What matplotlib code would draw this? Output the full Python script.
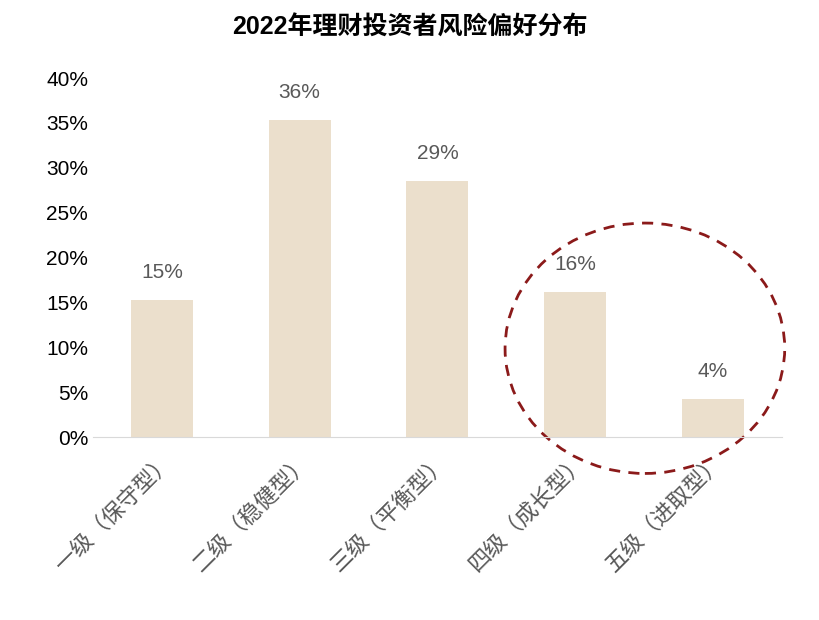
import matplotlib.pyplot as plt
from matplotlib.patches import Ellipse
from matplotlib.ticker import PercentFormatter

plt.rcParams["font.family"] = ["Liberation Sans", "Noto Sans CJK SC", "DejaVu Sans"]

categories = ["一级（保守型）", "二级（稳健型）", "三级（平衡型）", "四级（成长型）", "五级（进取型）"]
values = [15.3, 35.3, 28.5, 16.2, 4.2]
labels = ["15%", "36%", "29%", "16%", "4%"]

fig = plt.figure(figsize=(8.19, 6.2), dpi=100)
ax = fig.add_axes([0.1136, 0.295, 0.841, 0.579])

x = range(len(categories))
ax.bar(x, values, width=0.45, color="#EBDFCC")
for xi, v, lab in zip(x, values, labels):
    ax.text(xi, v + 2, lab, ha="center", va="bottom", fontsize=15, color="#595959")

ax.set_xlim(-0.5, 4.5)
ax.set_ylim(0, 40)
ax.set_yticks(range(0, 41, 5))
ax.yaxis.set_major_formatter(PercentFormatter(decimals=0))
ax.set_xticks(list(x))
ax.set_xticklabels(categories, rotation=45, ha="right", rotation_mode="anchor",
                   fontsize=16, color="#595959")
ax.tick_params(axis="y", labelsize=15, length=0, colors="#000000")
ax.tick_params(axis="x", length=0, pad=10)
for s in ["top", "right", "left"]:
    ax.spines[s].set_visible(False)
ax.spines["bottom"].set_color("#D9D9D9")

# dashed circle highlighting the last two categories
ax.add_patch(Ellipse((3.506, 9.9), 2.03, 27.9, fill=False, edgecolor="#8B1A1A",
                     linestyle=(0, (4, 3)), linewidth=2, clip_on=False))

fig.text(0.5, 0.955, "2022年理财投资者风险偏好分布", ha="center", va="center",
         fontsize=18, fontweight="bold")

fig.savefig("out.png", dpi=100)
